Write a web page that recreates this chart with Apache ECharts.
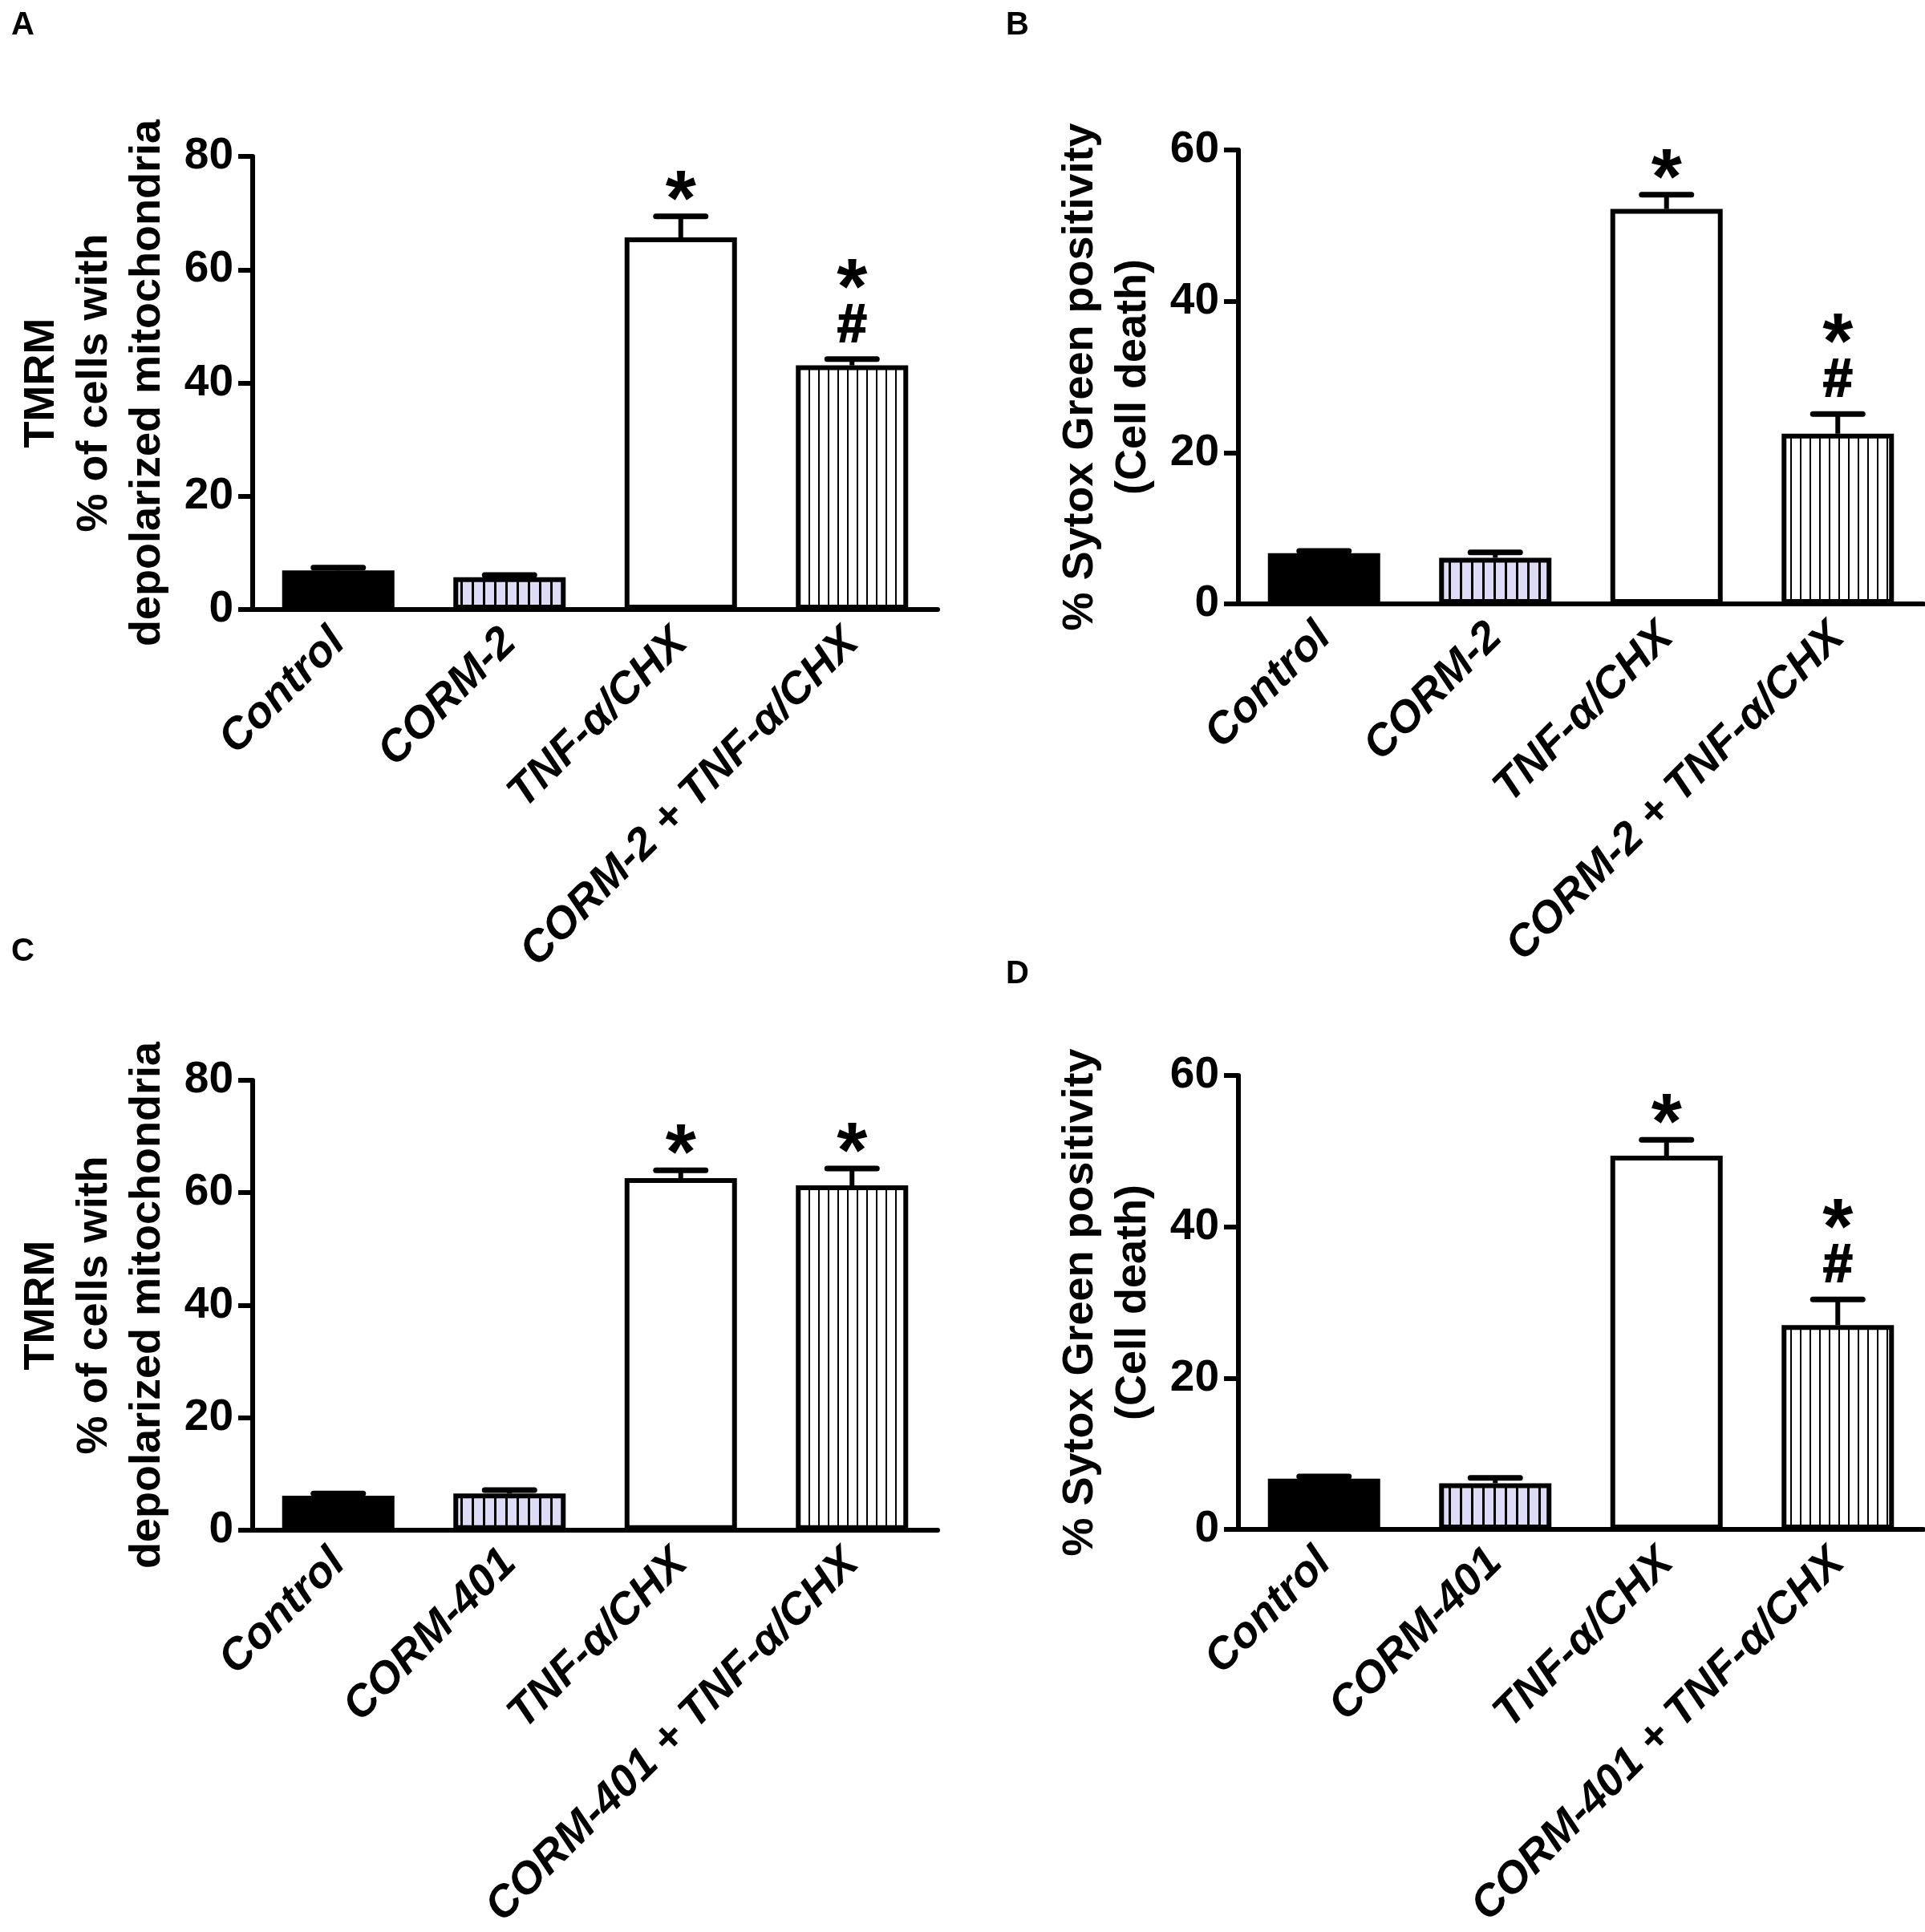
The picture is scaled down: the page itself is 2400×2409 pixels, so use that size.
<!DOCTYPE html>
<html><head><meta charset="utf-8">
<script src="https://cdn.jsdelivr.net/npm/echarts@6/dist/echarts.min.js"></script>
<style>html,body{margin:0;padding:0;background:#fff}#c{width:2400px;height:2409px}</style>
</head><body><div id="c"></div>
<script>
// ---------- data ----------
const categoriesTop = ['Control', 'CORM-2', 'TNF-α/CHX', 'CORM-2 + TNF-α/CHX'];
const categoriesBottom = ['Control', 'CORM-401', 'TNF-α/CHX', 'CORM-401 + TNF-α/CHX'];

const valuesA = [6.9, 5.7, 65.7, 43.1];
const errorsA = [0.5, 0.4, 3.7, 1.1];
const annotA = ['', '', '*', '*#'];

const valuesB = [6.7, 6.1, 52.2, 22.5];
const errorsB = [0.3, 0.7, 1.9, 2.6];
const annotB = ['', '', '*', '*#'];

const valuesC = [6.1, 6.5, 62.6, 61.3];
const errorsC = [0.4, 0.6, 1.4, 3.0];
const annotC = ['', '', '*', '*'];

const valuesD = [6.7, 6.1, 49.4, 27.0];
const errorsD = [0.3, 0.7, 2.1, 3.4];
const annotD = ['', '', '*', '*#'];

const yMaxTMRM = 80, yStepTMRM = 20;
const yMaxSytox = 60, yStepSytox = 20;

const titleTMRM = 'TMRM\n% of cells with\ndepolarized mitochondria';
const titleSytox = '% Sytox Green positivity\n(Cell death)';
const panelLetters = ['A', 'B', 'C', 'D'];

// ---------- styles ----------
const FONT = '"Liberation Sans", Arial, Helvetica, sans-serif';

function stripePattern(bg, lineW, spacing) {
  const c = document.createElement('canvas');
  c.width = spacing; c.height = 8;
  const g = c.getContext('2d');
  g.fillStyle = bg; g.fillRect(0, 0, spacing, 8);
  g.fillStyle = '#000'; g.fillRect(0, 0, lineW, 8);
  return { image: c, repeat: 'repeat' };
}
const lavender = stripePattern('#dcdcf6', 3, 14);
const whiteStripe = stripePattern('#ffffff', 2, 12);
const barFills = ['#000000', lavender, '#ffffff', whiteStripe];

const grids = [
  { left: 315, top: 195, width: 854, height: 565 },
  { left: 1544, top: 187, width: 854, height: 566 },
  { left: 315, top: 1347, width: 854, height: 566 },
  { left: 1544, top: 1341, width: 854, height: 566 }
];
const letterPos = [[14, 12], [1254, 12], [14, 1167], [1254, 1195]];

const panels = [
  { cats: categoriesTop, vals: valuesA, errs: errorsA, ann: annotA, max: yMaxTMRM, step: yStepTMRM, name: titleTMRM },
  { cats: categoriesTop, vals: valuesB, errs: errorsB, ann: annotB, max: yMaxSytox, step: yStepSytox, name: titleSytox },
  { cats: categoriesBottom, vals: valuesC, errs: errorsC, ann: annotC, max: yMaxTMRM, step: yStepTMRM, name: titleTMRM },
  { cats: categoriesBottom, vals: valuesD, errs: errorsD, ann: annotD, max: yMaxSytox, step: yStepSytox, name: titleSytox }
];

function errRenderer(ann) {
  return function (params, api) {
    const i = api.value(0);
    const base = api.coord([i, api.value(1)]);
    const top = api.coord([i, api.value(2)]);
    const half = 31;
    const kids = [
      { type: 'line', shape: { x1: top[0], y1: base[1], x2: top[0], y2: top[1] }, style: { stroke: '#000', lineWidth: 6 } },
      { type: 'line', shape: { x1: top[0] - half, y1: top[1], x2: top[0] + half, y2: top[1] }, style: { stroke: '#000', lineWidth: 7, lineCap: 'round' } }
    ];
    const a = ann[params.dataIndex];
    const star = (y) => ({ type: 'text', style: { text: '*', x: top[0], y: y, align: 'center', verticalAlign: 'middle', font: 'bold 98px ' + FONT, fill: '#000' } });
    if (a === '*') kids.push(star(top[1] - 16));
    if (a === '*#') {
      kids.push({ type: 'text', style: { text: '#', x: top[0], y: top[1] - 40, align: 'center', verticalAlign: 'middle', font: 'bold 66px ' + FONT, fill: '#000', stroke: '#000', lineWidth: 2 } });
      kids.push(star(top[1] - 84));
    }
    return { type: 'group', children: kids };
  };
}

const option = {
  backgroundColor: '#fff',
  animation: false,
  title: panelLetters.map((t, k) => ({ text: t, left: letterPos[k][0], top: letterPos[k][1], padding: 0,
    textStyle: { fontSize: 40, fontWeight: 'bold', color: '#000', fontFamily: FONT } })),
  grid: grids,
  xAxis: panels.map((p, k) => ({
    type: 'category', gridIndex: k, data: p.cats,
    axisLine: { lineStyle: { color: '#000', width: 6 } },
    axisTick: { show: false },
    axisLabel: { rotate: 45, interval: 0, margin: 33, color: '#000', fontSize: 55, fontWeight: 'bold', fontStyle: 'italic', fontFamily: FONT }
  })),
  yAxis: panels.map((p, k) => ({
    type: 'value', gridIndex: k, min: 0, max: p.max, interval: p.step,
    axisLine: { show: true, lineStyle: { color: '#000', width: 6 } },
    axisTick: { show: true, length: 18, lineStyle: { color: '#000', width: 6 } },
    splitLine: { show: false },
    axisLabel: { margin: 24, color: '#000', fontSize: 55, fontWeight: 'bold', fontFamily: FONT },
    name: p.name, nameLocation: 'middle', nameRotate: 90, nameGap: 98,
    nameTextStyle: { color: '#000', fontSize: 54, fontWeight: 'bold', lineHeight: 66, fontFamily: FONT }
  })),
  series: []
};

panels.forEach((p, k) => {
  option.series.push({
    type: 'bar', xAxisIndex: k, yAxisIndex: k, barWidth: 140,
    data: p.vals.map((v, i) => ({ value: v, itemStyle: { color: barFills[i], borderColor: '#000', borderWidth: 6 } })),
    z: 2
  });
  option.series.push({
    type: 'custom', xAxisIndex: k, yAxisIndex: k,
    data: p.vals.map((v, i) => [i, v, v + p.errs[i]]),
    encode: { x: 0, y: [1, 2] },
    renderItem: errRenderer(p.ann),
    z: 3
  });
});

const chart = echarts.init(document.getElementById('c'), null, { renderer: 'canvas' });
chart.setOption(option);
</script>
</body></html>
